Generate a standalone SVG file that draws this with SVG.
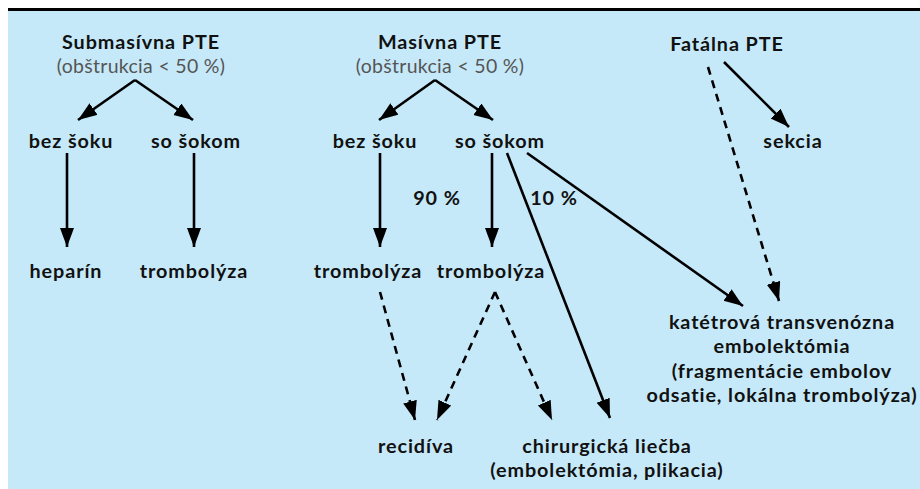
<svg xmlns="http://www.w3.org/2000/svg" width="920" height="489" viewBox="0 0 920 489">
<style>
  .t { font-family: Lato, "Open Sans", "DejaVu Sans", sans-serif; font-weight: bold; font-size: 19.8px; letter-spacing: 0.9px; fill: #111; text-anchor: middle; }
  .s { font-family: Lato, "Open Sans", "DejaVu Sans", sans-serif; font-weight: normal; font-size: 19.5px; letter-spacing: 0.3px; fill: #555; text-anchor: middle; }
  .c { stroke: #000; stroke-width: 2.6; fill: none; marker-end: url(#ah); }
  .d { stroke-dasharray: 8 6; }
</style>
<defs>
  <marker id="ah" markerUnits="userSpaceOnUse" markerWidth="20" markerHeight="16" refX="19" refY="7" orient="auto">
    <path d="M0,0 L19,7 L0,14 z" fill="#000"/>
  </marker>
</defs>
<rect x="8" y="8" width="912" height="3" fill="#000"/>
<rect x="8" y="11" width="912" height="478" fill="#c6e9f9"/>

<g id="connectors">
  <line class="c" x1="135" y1="80" x2="78" y2="120"/>
  <line class="c" x1="135" y1="80" x2="193" y2="120"/>
  <line class="c" x1="67" y1="153" x2="67" y2="247"/>
  <line class="c" x1="194" y1="153" x2="194" y2="247"/>
  <line class="c" x1="435" y1="80" x2="379" y2="120"/>
  <line class="c" x1="435" y1="80" x2="493" y2="120"/>
  <line class="c" x1="380" y1="153" x2="380" y2="247"/>
  <line class="c" x1="492" y1="153" x2="492" y2="247"/>
  <line class="c" x1="507" y1="153" x2="610" y2="418"/>
  <line class="c" x1="527" y1="153" x2="743" y2="306"/>
  <line class="c" x1="724" y1="62" x2="789" y2="127"/>
  <line class="c d" x1="708" y1="67" x2="779" y2="301"/>
  <line class="c d" x1="380" y1="292" x2="415" y2="420"/>
  <line class="c d" x1="495" y1="292" x2="437" y2="420"/>
  <line class="c d" x1="495" y1="292" x2="552" y2="420"/>
</g>

<g id="submasivna"><text class="t" x="141" y="49">Submasívna PTE</text><text class="s" x="141" y="73">(obštrukcia &lt; 50 %)</text></g>
<g id="masivna"><text class="t" x="440" y="49">Masívna PTE</text><text class="s" x="440" y="73">(obštrukcia &lt; 50 %)</text></g>
<g id="fatalna"><text class="t" x="727" y="51">Fatálna PTE</text></g>

<g id="bez1"><text class="t" x="71" y="148">bez šoku</text></g>
<g id="so1"><text class="t" x="196" y="148">so šokom</text></g>
<g id="bez2"><text class="t" x="375" y="148">bez šoku</text></g>
<g id="so2"><text class="t" x="500" y="148">so šokom</text></g>
<g id="sekcia"><text class="t" x="793" y="148">sekcia</text></g>

<g id="p90"><text class="t" x="437" y="205">90 %</text></g>
<g id="p10"><text class="t" x="554" y="205">10 %</text></g>

<g id="heparin"><text class="t" x="66" y="278">heparín</text></g>
<g id="tromb1"><text class="t" x="194" y="278">trombolýza</text></g>
<g id="tromb2"><text class="t" x="368" y="278">trombolýza</text></g>
<g id="tromb3"><text class="t" x="491" y="278">trombolýza</text></g>

<g id="kateter">
  <text class="t" x="782" y="329">katétrová transvenózna</text>
  <text class="t" x="782" y="353">embolektómia</text>
  <text class="t" x="782" y="378">(fragmentácie embolov</text>
  <text class="t" x="782" y="402">odsatie, lokálna trombolýza)</text>
</g>

<g id="recidiva"><text class="t" x="416" y="453">recidíva</text></g>
<g id="chirurgia">
  <text class="t" x="607" y="453">chirurgická liečba</text>
  <text class="t" x="607" y="477">(embolektómia, plikacia)</text>
</g>
</svg>
